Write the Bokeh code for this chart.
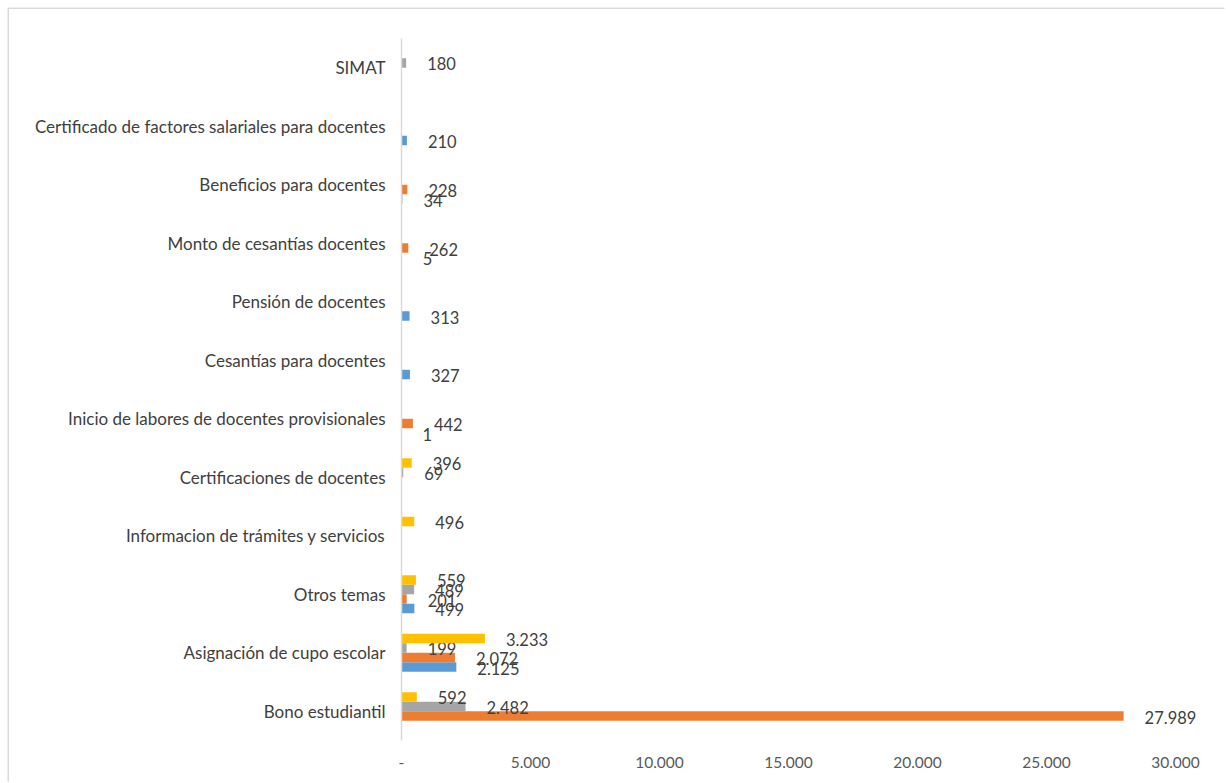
from bokeh.plotting import figure
from bokeh.models import ColumnDataSource, FactorRange, FixedTicker, Range1d, InlineStyleSheet
from bokeh.transform import dodge
from bokeh.core.properties import value
from bokeh.embed import file_html
from bokeh.resources import INLINE

categories = [
    "Bono estudiantil",
    "Asignación de cupo escolar",
    "Otros temas",
    "Informacion de trámites y servicios",
    "Certificaciones de docentes",
    "Inicio de labores de docentes provisionales",
    "Cesantías para docentes",
    "Pensión de docentes",
    "Monto de cesantías docentes",
    "Beneficios para docentes",
    "Certificado de factores salariales para docentes",
    "SIMAT",
]
serie_azul = [None, 2125, 499, None, None, 1, 327, 313, 5, 34, 210, None]
serie_naranja = [27989, 2072, 201, None, None, 442, None, None, 262, 228, None, None]
serie_gris = [2482, 199, 489, None, 69, None, None, None, None, None, None, 180]
serie_amarilla = [592, 3233, 559, 496, 396, None, None, None, None, None, None, None]
tick_values = [0, 5000, 10000, 15000, 20000, 25000, 30000]
tick_labels = ["-", "5.000", "10.000", "15.000", "20.000", "25.000", "30.000"]

series = [
    (serie_azul, "#5B9BD5", -0.245),
    (serie_naranja, "#ED7D31", -0.082),
    (serie_gris, "#A5A5A5", 0.082),
    (serie_amarilla, "#FFC000", 0.245),
]

FONT = "Lato"
TXT = "#404040"

W, H = 1217, 774
p = figure(
    width=W, height=H,
    y_range=FactorRange(*categories, range_padding=0),
    x_range=Range1d(0, 31977),
    output_backend="svg", toolbar_location=None,
    min_border_left=392, min_border_right=0,
    min_border_top=29, min_border_bottom=43,
)
p.margin = (9, 0, 0, 9)
p.stylesheets = [InlineStyleSheet(css=":host { box-shadow: -1.5px -1.5px 0 0 #d9d9d9; }")]
p.outline_line_color = None
p.grid.visible = False

def fmt(v):
    return f"{v:,}".replace(",", ".")

for vals, color, off in series:
    cats = [c for c, v in zip(categories, vals) if v is not None]
    vs = [v for v in vals if v is not None]
    src = ColumnDataSource(dict(cat=cats, val=vs, lab=[fmt(v) for v in vs]))
    p.hbar(y=dodge("cat", off, range=p.y_range), right="val", left=0, height=0.163,
           source=src, fill_color=color, line_color=None)
    p.text(x="val", y=dodge("cat", off, range=p.y_range), text="lab", source=src,
           x_offset=21, y_offset=1, text_baseline="middle", text_align="left",
           text_font=value(FONT), text_font_size="16.5px", text_color=TXT)

ya = p.yaxis[0]
ya.axis_line_color = "#d9d9d9"
ya.axis_line_width = 1.5
ya.major_tick_line_color = None
ya.minor_tick_line_color = None
ya.major_label_standoff = 10
ya.major_label_text_font = FONT
ya.major_label_text_font_size = "17px"
ya.major_label_text_color = TXT

xa = p.xaxis[0]
xa.ticker = FixedTicker(ticks=tick_values)
xa.major_label_overrides = {t: l for t, l in zip(tick_values, tick_labels)}
xa.axis_line_color = None
xa.major_tick_line_color = None
xa.minor_tick_line_color = None
xa.major_label_standoff = 10
xa.major_label_text_font = FONT
xa.major_label_text_font_size = "15.5px"
xa.major_label_text_color = "#595959"

open("out.html", "w").write(file_html(p, INLINE))
